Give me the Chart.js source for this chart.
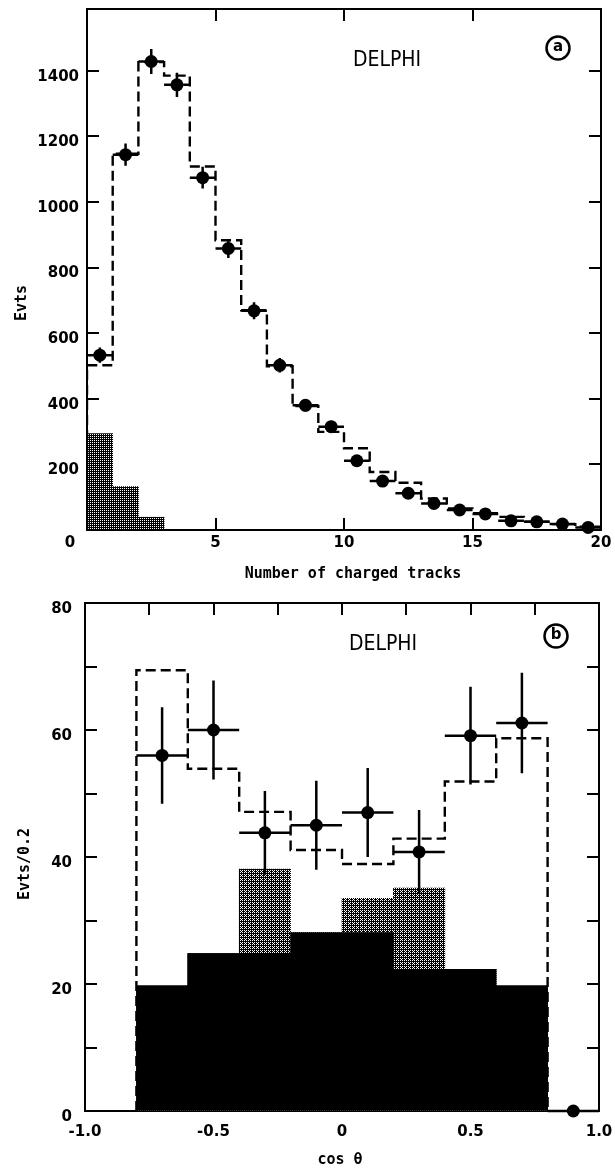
<!DOCTYPE html>
<html>
<head>
<meta charset="utf-8">
<title>DELPHI</title>
<script src="https://cdn.jsdelivr.net/npm/chart.js@4.4.1/dist/chart.umd.min.js"></script>
<style>
  html, body { margin: 0; padding: 0; background: #fff; }
  #wrap { position: relative; width: 615px; height: 1171px; }
  canvas { position: absolute; left: 0; }
  #tracks { top: 0; }
  #angle { top: 590px; }
</style>
</head>
<body>
<div id="wrap">
  <canvas id="tracks" width="615" height="590"></canvas>
  <canvas id="angle" width="615" height="581"></canvas>
</div>
<script>
// (a) charged multiplicity
const trackEdges = [0, 1, 2, 3, 4, 5, 6, 7, 8, 9, 10, 11, 12, 13, 14, 15, 16, 17, 18, 19, 20];
const trackCentres = [0.5, 1.5, 2.5, 3.5, 4.5, 5.5, 6.5, 7.5, 8.5, 9.5, 10.5, 11.5, 12.5, 13.5, 14.5, 15.5, 16.5, 17.5, 18.5, 19.5];
const trackData = [533, 1144, 1428, 1357, 1074, 858, 668, 502, 380, 315, 211, 149, 112, 81, 61, 49, 28, 25, 18, 8];
const trackErr = [23, 34, 38, 37, 33, 29, 26, 22, 19, 18, 15, 12, 11, 9, 8, 7, 5, 5, 4, 3];
const trackMC = [502, 1147, 1426, 1385, 1108, 883, 670, 499, 378, 299, 249, 177, 144, 96, 66, 51, 40, 25, 18, 10];
const trackBg = [294, 132, 39, 0, 0, 0, 0, 0, 0, 0, 0, 0, 0, 0, 0, 0, 0, 0, 0, 0];
const trackXTicks = [0, 5, 10, 15, 20];
const trackXLabels = [5, 10, 15, 20];
const trackYTicks = [0, 200, 400, 600, 800, 1000, 1200, 1400];
const trackYLabels = [200, 400, 600, 800, 1000, 1200, 1400];

// (b) polar angle distribution
const angleEdges = [-0.8, -0.6, -0.4, -0.2, 0, 0.2, 0.4, 0.6, 0.8];
const angleCentres = [-0.7, -0.5, -0.3, -0.1, 0.1, 0.3, 0.5, 0.7, 0.9];
const angleData = [56.0, 60.0, 43.8, 45.0, 47.0, 40.8, 59.1, 61.1, 0];
const angleErr = [7.6, 7.8, 6.6, 7.0, 7.0, 6.6, 7.7, 7.9, 0];
const angleMC = [69.4, 53.9, 47.1, 41.1, 38.9, 42.9, 51.9, 58.7];
const angleBgTotal = [19.7, 24.8, 38.1, 28.1, 33.5, 35.1, 22.3, 19.7];
const angleBgDark = [19.7, 24.8, 24.8, 28.1, 28.1, 22.3, 22.3, 19.7];
const angleXTicks = [-1, -0.75, -0.5, -0.25, 0, 0.25, 0.5, 0.75, 1];
const angleXLabels = [-1, -0.5, 0, 0.5, 1];
const angleYTicks = [0, 10, 20, 30, 40, 50, 60, 70, 80];
const angleYLabels = [0, 20, 40, 60, 80];

const TICK_FONT = { family: '"DejaVu Sans", sans-serif', size: 15, weight: 'bold' };
const TITLE_FONT = 'bold 15px "DejaVu Sans Mono", monospace';
const TAG_FONT = '21px "Liberation Sans Narrow", "DejaVu Sans Condensed", sans-serif';

// ordered dither tile, white where the Bayer value is below the level
function stipple(level) {
  const bayer = [[0, 8, 2, 10], [12, 4, 14, 6], [3, 11, 1, 9], [15, 7, 13, 5]];
  const tile = document.createElement('canvas');
  tile.width = tile.height = 4;
  const t = tile.getContext('2d');
  t.fillStyle = '#000';
  t.fillRect(0, 0, 4, 4);
  t.fillStyle = '#fff';
  for (let r = 0; r < 4; r++) {
    for (let c = 0; c < 4; c++) {
      if (bayer[r][c] < level) t.fillRect(c, r, 1, 1);
    }
  }
  return t.createPattern(tile, 'repeat');
}

// histogram outline as corner points from bin edges and contents
function stepOutline(edges, values) {
  const pts = [{ x: edges[0], y: 0 }];
  values.forEach((v, i) => {
    pts.push({ x: edges[i], y: v }, { x: edges[i + 1], y: v });
  });
  pts.push({ x: edges[edges.length - 1], y: 0 });
  return pts;
}

function fmtAngle(v) {
  return v === 0 ? '0' : v.toFixed(1);
}

// fixed axis size so the plot frame lands where we want it
function fixedSize(size, horizontal) {
  return function (scale) {
    if (horizontal) scale.height = size; else scale.width = size;
    scale.paddingTop = scale.paddingBottom = scale.paddingLeft = scale.paddingRight = 0;
  };
}

function makeAxis(position, min, max, ticks, labels, fmt, opts) {
  const horizontal = position === 'top' || position === 'bottom';
  return {
    type: 'linear',
    position: position,
    min: min,
    max: max,
    offset: false,
    afterBuildTicks: s => { s.ticks = ticks.map(v => ({ value: v })); },
    afterFit: fixedSize(opts.size, horizontal),
    grid: { drawOnChartArea: false, drawTicks: true, tickLength: -12, lineWidth: 2, color: '#000', offset: false },
    border: { display: true, color: '#000', width: 2 },
    ticks: {
      display: !!labels,
      autoSkip: false,
      maxRotation: 0,
      color: '#000',
      font: TICK_FONT,
      padding: opts.pad || 0,
      labelOffset: opts.labelOffset || 0,
      callback: v => (labels && labels.includes(v)) ? fmt(v) : ''
    }
  };
}

// horizontal and vertical error bars, drawn just before the points
const errorBars = {
  id: 'errorBars',
  beforeDatasetDraw(chart, args) {
    const ds = chart.data.datasets[args.index];
    if (!ds.errors) return;
    const xs = chart.scales.x, ys = chart.scales.y;
    const ctx = chart.ctx;
    ctx.save();
    ctx.strokeStyle = '#000';
    ctx.lineWidth = 2.5;
    ds.data.forEach((p, i) => {
      const x = xs.getPixelForValue(p.x);
      const y = ys.getPixelForValue(p.y);
      ctx.beginPath();
      ctx.moveTo(xs.getPixelForValue(p.x - ds.halfWidth), y);
      ctx.lineTo(xs.getPixelForValue(p.x + ds.halfWidth), y);
      if (ds.errors[i] > 0) {
        ctx.moveTo(x, ys.getPixelForValue(p.y - ds.errors[i]));
        ctx.lineTo(x, ys.getPixelForValue(p.y + ds.errors[i]));
      }
      ctx.stroke();
    });
    ctx.restore();
  }
};

// panel texts: experiment tag, circled panel letter, axis titles
function panelText(t) {
  return {
    id: 'panelText',
    afterDraw(chart) {
      const ctx = chart.ctx;
      ctx.save();
      ctx.fillStyle = '#000';
      ctx.strokeStyle = '#000';
      ctx.textAlign = 'center';
      ctx.textBaseline = 'middle';

      ctx.font = TAG_FONT;
      ctx.fillText('DELPHI', t.tag[0], t.tag[1]);

      ctx.lineWidth = 2.5;
      ctx.beginPath();
      ctx.arc(t.letterAt[0], t.letterAt[1], 11.5, 0, Math.PI * 2);
      ctx.stroke();
      ctx.font = 'bold 15px "DejaVu Sans", sans-serif';
      ctx.fillText(t.letter, t.letterAt[0], t.letterAt[1] - 1);

      ctx.font = TITLE_FONT;
      ctx.fillText(t.xTitle, t.xTitleAt[0], t.xTitleAt[1]);

      ctx.save();
      ctx.translate(t.yTitleAt[0], t.yTitleAt[1]);
      ctx.rotate(-Math.PI / 2);
      ctx.fillText(t.yTitle, 0, 0);
      ctx.restore();

      if (t.corner) {
        ctx.font = 'bold 15px "DejaVu Sans", sans-serif';
        ctx.fillText(t.corner.text, t.corner.at[0], t.corner.at[1]);
      }
      ctx.restore();
    }
  };
}

const baseOptions = {
  responsive: false,
  animation: false,
  devicePixelRatio: 1,
  events: [],
  plugins: { legend: { display: false }, tooltip: { enabled: false } }
};

const mcStyle = {
  type: 'line',
  borderColor: '#000',
  borderWidth: 2.4,
  borderDash: [10, 5],
  pointRadius: 0,
  fill: false,
  tension: 0,
  order: 1
};

const pointStyle = {
  type: 'scatter',
  pointRadius: 6.5,
  pointBackgroundColor: '#000',
  pointBorderWidth: 0,
  clip: false,
  order: 0
};

const barStyle = {
  type: 'bar',
  borderWidth: 0,
  barPercentage: 1,
  categoryPercentage: 1,
  grouped: false
};

// top panel
new Chart(document.getElementById('tracks'), {
  type: 'scatter',
  data: {
    datasets: [
      Object.assign({}, pointStyle, {
        data: trackCentres.map((x, i) => ({ x: x, y: trackData[i] })),
        errors: trackErr,
        halfWidth: 0.5
      }),
      Object.assign({}, mcStyle, { data: stepOutline(trackEdges, trackMC) }),
      Object.assign({}, barStyle, {
        data: trackCentres.map((x, i) => ({ x: x, y: trackBg[i] })),
        backgroundColor: stipple(4),
        order: 2
      })
    ]
  },
  options: Object.assign({}, baseOptions, {
    layout: { padding: { top: 9, right: 14, bottom: 0, left: 0 } },
    scales: {
      x: makeAxis('bottom', 0, 20, trackXTicks, trackXLabels, v => String(v), { size: 60, pad: 16 }),
      x2: makeAxis('top', 0, 20, trackXTicks, null, null, { size: 0 }),
      y: makeAxis('left', 0, 1588, trackYTicks, trackYLabels, v => String(v), { size: 87, pad: 20, labelOffset: 6 }),
      y2: makeAxis('right', 0, 1588, trackYTicks, null, null, { size: 0 })
    }
  }),
  plugins: [errorBars, panelText({
    tag: [387, 61], letter: 'a', letterAt: [558, 48],
    xTitle: 'Number of charged tracks', xTitleAt: [353, 574],
    yTitle: 'Evts', yTitleAt: [22, 303],
    corner: { text: '0', at: [70, 543] }
  })]
});

// bottom panel
new Chart(document.getElementById('angle'), {
  type: 'scatter',
  data: {
    datasets: [
      Object.assign({}, pointStyle, {
        data: angleCentres.map((x, i) => ({ x: x, y: angleData[i] })),
        errors: angleErr,
        halfWidth: 0.1
      }),
      Object.assign({}, mcStyle, { data: stepOutline(angleEdges, angleMC) }),
      Object.assign({}, barStyle, {
        data: angleCentres.slice(0, 8).map((x, i) => ({ x: x, y: angleBgDark[i] })),
        backgroundColor: '#000',
        order: 2
      }),
      Object.assign({}, barStyle, {
        data: angleCentres.slice(0, 8).map((x, i) => ({ x: x, y: angleBgTotal[i] })),
        backgroundColor: stipple(5),
        order: 3
      })
    ]
  },
  options: Object.assign({}, baseOptions, {
    layout: { padding: { top: 13, right: 16, bottom: 0, left: 0 } },
    scales: {
      x: makeAxis('bottom', -1, 1, angleXTicks, angleXLabels, fmtAngle, { size: 60, pad: 24 }),
      x2: makeAxis('top', -1, 1, angleXTicks, null, null, { size: 0 }),
      y: makeAxis('left', 0, 80, angleYTicks, angleYLabels, v => String(v), { size: 85, pad: 25, labelOffset: 6 }),
      y2: makeAxis('right', 0, 80, angleYTicks, null, null, { size: 0 })
    }
  }),
  plugins: [errorBars, panelText({
    tag: [383, 55], letter: 'b', letterAt: [556, 46],
    xTitle: 'cos θ', xTitleAt: [340, 570],
    yTitle: 'Evts/0.2', yTitleAt: [25, 274]
  })]
});
</script>
</body>
</html>
